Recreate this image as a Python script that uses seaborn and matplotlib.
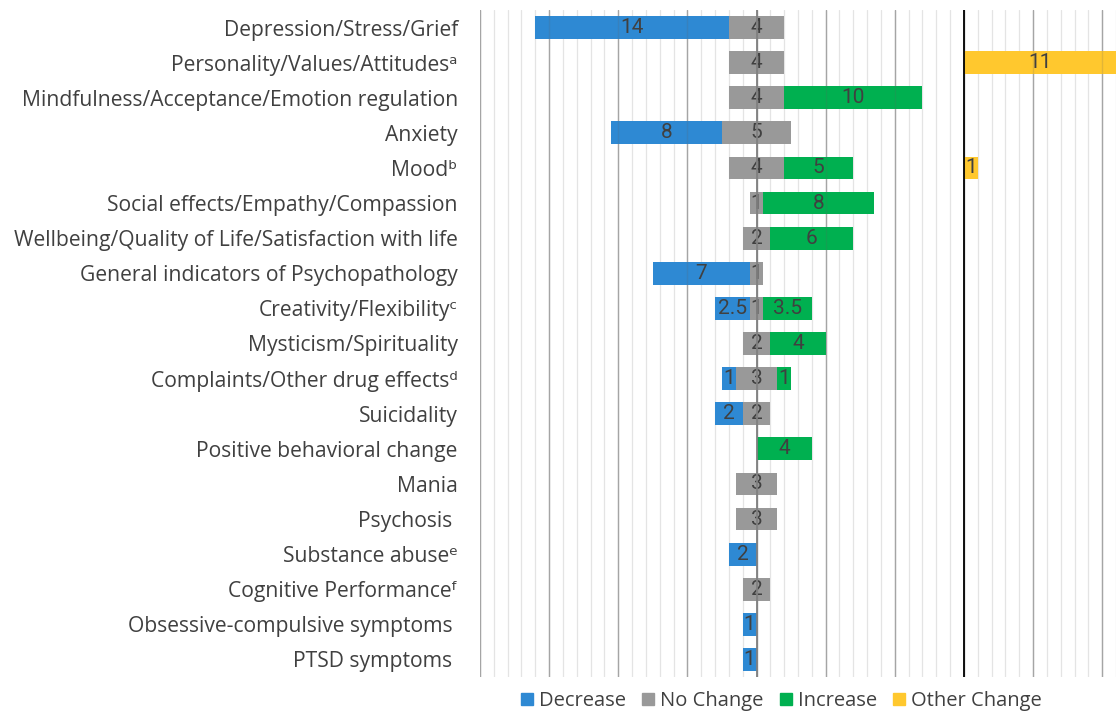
import matplotlib
matplotlib.use("Agg")
import matplotlib.pyplot as plt
from matplotlib.patches import Patch
from matplotlib.ticker import MultipleLocator
import pandas as pd
import seaborn as sns

# outcome categories, top to bottom
categories = [
    "Depression/Stress/Grief",
    "Personality/Values/Attitudes\u1d43",
    "Mindfulness/Acceptance/Emotion regulation",
    "Anxiety",
    "Mood\u1d47",
    "Social effects/Empathy/Compassion",
    "Wellbeing/Quality of Life/Satisfaction with life",
    "General indicators of Psychopathology",
    "Creativity/Flexibility\u1d9c",
    "Mysticism/Spirituality",
    "Complaints/Other drug effects\u1d48",
    "Suicidality",
    "Positive behavioral change",
    "Mania",
    "Psychosis ",
    "Substance abuse\u1d49",
    "Cognitive Performance\u1da0",
    "Obsessive-compulsive symptoms ",
    "PTSD symptoms ",
]

decrease = [14, 0, 0, 8, 0, 0, 0, 7, 2.5, 0, 1, 2, 0, 0, 0, 2, 0, 1, 1]
no_change = [4, 4, 4, 5, 4, 1, 2, 1, 1, 2, 3, 2, 0, 3, 3, 0, 2, 0, 0]
increase = [0, 0, 10, 0, 5, 8, 6, 0, 3.5, 4, 1, 0, 4, 0, 0, 0, 0, 0, 0]
other_change = [0, 11, 0, 0, 1, 0, 0, 0, 0, 0, 0, 0, 0, 0, 0, 0, 0, 0, 0]

other_offset = 15  # "Other Change" bars start at the black line

colors = {
    "Decrease": "#2E89D3",
    "No Change": "#999999",
    "Increase": "#00B050",
    "Other Change": "#FFC82E",
}

text_color = "#404040"
label_font = ["Open Sans", "DejaVu Sans"]
num_font = ["Liberation Sans Narrow", "Roboto", "DejaVu Sans"]

# segment start positions (diverging around the middle of "No Change")
half_nc = [n / 2 for n in no_change]
segments = {
    "Decrease": ([-h - d for h, d in zip(half_nc, decrease)], decrease),
    "No Change": ([-h for h in half_nc], no_change),
    "Increase": (half_nc, increase),
    "Other Change": ([other_offset] * len(categories), other_change),
}

sns.set_theme(style="white")
plt.rcParams["font.family"] = label_font

fig = plt.figure(figsize=(11.16, 7.14), dpi=100)
ax = fig.add_axes([480 / 1116, 1 - 677 / 714, 636 / 1116, 667 / 714])

for name, (starts, vals) in segments.items():
    df = pd.DataFrame({"category": categories, "value": vals})
    sns.barplot(
        data=df, y="category", x="value", order=categories, orient="h",
        color=colors[name], saturation=1, width=0.65, left=starts,
        linewidth=0, ax=ax,
    )
    labels = [f"{v:g}" if v > 0 else "" for v in vals]
    ax.bar_label(ax.containers[-1], labels=labels, label_type="center",
                 color=text_color, fontsize=15, family=num_font)

ax.set_xlim(-20, 26)
ax.set_ylim(len(categories) - 0.5, -0.5)
ax.xaxis.set_major_locator(MultipleLocator(5))
ax.xaxis.set_minor_locator(MultipleLocator(1))
ax.set_axisbelow(True)
ax.grid(which="minor", axis="x", color="#e4e4e4", lw=0.9)
ax.grid(which="major", axis="x", color="#b5b5b5", lw=1.0)
ax.grid(which="major", axis="y", visible=False)
# major lines faintly visible through the bars
for xv in range(-20, 27, 5):
    ax.axvline(xv, color="#606060", alpha=0.18, lw=1.0, zorder=3)
ax.axvline(0, color="#808080", lw=1.3, zorder=5)
ax.axvline(other_offset, color="black", lw=1.3, zorder=5)

ax.set_xlabel("")
ax.set_ylabel("")
ax.tick_params(axis="x", which="both", bottom=False, labelbottom=False)
ax.tick_params(axis="y", left=False, pad=10, labelsize=15.2, labelcolor=text_color)
for s in ax.spines.values():
    s.set_visible(False)

handles = [Patch(color=c, label=k) for k, c in colors.items()]
fig.legend(handles=handles, loc="center", bbox_to_anchor=(0.70, 0.018), ncol=4,
           frameon=False, fontsize=14.5, handlelength=0.6, handleheight=0.6,
           handletextpad=0.3, columnspacing=0.8, labelcolor=text_color)

fig.savefig("out.png", dpi=100)
